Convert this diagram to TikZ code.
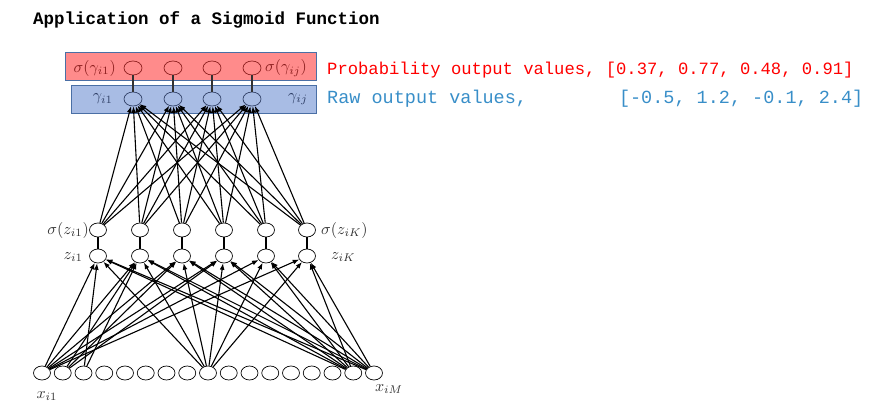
\documentclass[tikz,border=0pt]{standalone}
\usepackage{fontspec}
\usetikzlibrary{shapes.geometric,arrows.meta}
\newfontfamily\titlefnt{Liberation Mono}
\newfontfamily\monofnt{Liberation Mono}
\definecolor{redfill}{RGB}{255,139,139}
\definecolor{bluefill}{RGB}{168,188,228}
\definecolor{boxborder}{RGB}{74,111,165}
\definecolor{darkred}{RGB}{140,30,30}
\definecolor{darkblue}{RGB}{47,63,102}
\definecolor{probred}{RGB}{255,0,0}
\definecolor{rawblue}{RGB}{56,142,200}
\definecolor{labgray}{RGB}{50,50,50}
\tikzset{
  neuron/.style={ellipse,draw=black,line width=0.7pt,minimum width=17pt,minimum height=14pt,inner sep=0pt},
  redneuron/.style={neuron,draw=darkred,minimum width=18pt},
  blueneuron/.style={neuron,draw=darkblue,minimum width=18pt},
  redbox/.style={rectangle,draw=boxborder,fill=redfill,line width=0.8pt,minimum width=251pt,minimum height=28pt,inner sep=0pt},
  bluebox/.style={rectangle,draw=boxborder,fill=bluefill,line width=0.8pt,minimum width=245pt,minimum height=28pt,inner sep=0pt},
  edge/.style={line width=1.1pt,black,-{Latex[length=6.5pt,width=5pt]}},
  link/.style={line width=1.1pt,labgray},
  lab/.style={inner sep=0pt,text=labgray}
}
\newcommand{\mlab}[1]{\scalebox{1.6}{$#1$}}
\begin{document}
\begin{tikzpicture}[x=1pt,y=-1pt]
\useasboundingbox (0,0) rectangle (884,418);
% title
\node[anchor=base west,inner sep=0pt,font=\fontsize{17.5}{20}\titlefnt\bfseries] (title) at (33,24) {Application of a Sigmoid Function};
% boxes
\node[redbox] (rbox) at (190.5,66) {};
\node[bluebox] (bbox) at (193.5,99) {};
% output nodes
\foreach \i/\x in {1/133,2/173,3/212,4/252}{
  \node[redneuron] (s\i) at (\x,68) {};
  \node[blueneuron] (g\i) at (\x,99) {};
  \draw[link] (s\i) -- (g\i);
}
% hidden nodes
\foreach \i/\x in {1/98,2/140,3/182,4/224,5/266,6/307}{
  \node[neuron] (sz\i) at (\x,230) {};
  \node[neuron] (z\i) at (\x,256) {};
  \draw[link,black] (z\i) -- (sz\i);
}
% input nodes
\foreach \k in {1,...,17}{
  \node[neuron] (x\k) at ({42+20.75*(\k-1)},373) {};
}
% hidden -> output
\foreach \i in {1,...,6}{
  \foreach \j in {1,...,4}{
    \draw[edge] (sz\i) -- (g\j);
  }
}
% input -> hidden
\foreach \k in {1,9,16,17}{
  \foreach \i in {1,...,6}{
    \draw[edge] (x\k) -- (z\i);
  }
}
\foreach \i in {2,3,4}{ \draw[edge] (x2) -- (z\i); }
\foreach \i in {1,2}{ \draw[edge] (x3) -- (z\i); }
% labels
\node[lab,text=darkred,anchor=east] (ls1) at (116,68) {\mlab{\sigma(\gamma_{i1})}};
\node[lab,text=darkred,anchor=west] (ls4) at (265,68) {\mlab{\sigma(\gamma_{ij})}};
\node[lab,text=darkblue,anchor=east] (lg1) at (113,99) {\mlab{\gamma_{i1}}};
\node[lab,text=darkblue,anchor=west] (lg4) at (288,99) {\mlab{\gamma_{ij}}};
\node[lab,anchor=east] (lsz1) at (89,230) {\mlab{\sigma(z_{i1})}};
\node[lab,anchor=west] (lsz6) at (321,230) {\mlab{\sigma(z_{iK})}};
\node[lab,anchor=east] (lz1) at (83,257) {\mlab{z_{i1}}};
\node[lab,anchor=west] (lz6) at (331,257) {\mlab{z_{iK}}};
\node[lab] (lx1) at (47,396) {\mlab{x_{i1}}};
\node[lab] (lxM) at (389,389) {\mlab{x_{iM}}};
% value texts
\node[anchor=base west,inner sep=0pt,text=probred,font=\fontsize{17.2}{20}\monofnt] (prob) at (327,74) {Probability output values, [0.37, 0.77, 0.48, 0.91]};
\node[anchor=base west,inner sep=0pt,text=rawblue,font=\fontsize{18.5}{20}\monofnt] (raw) at (327,103) {Raw output values,\hspace{92pt}[-0.5, 1.2, -0.1, 2.4]};
\end{tikzpicture}
\end{document}
